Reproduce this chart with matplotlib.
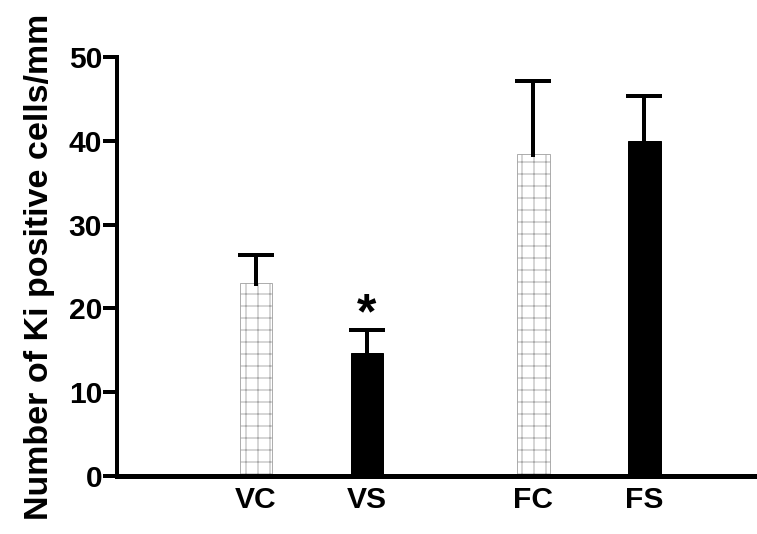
import matplotlib
matplotlib.use("Agg")
import matplotlib.pyplot as plt

# data
groups = ["VC", "VS", "FC", "FS"]
means = [23.0, 14.7, 38.4, 40.0]
errors = [3.4, 2.7, 8.7, 5.3]
hatched = [True, False, True, False]
positions = [1, 2, 3.5, 4.5]

plt.rcParams['font.family'] = ['Liberation Sans', 'DejaVu Sans']
plt.rcParams['font.weight'] = 'bold'
plt.rcParams['hatch.color'] = '#9a9a9a'
plt.rcParams['hatch.linewidth'] = 0.8

fig = plt.figure(figsize=(757 / 72, 534 / 72), dpi=72)
ax = fig.add_axes([0.1546, 0.1086, 0.8454, 0.7846])

for x, m, h in zip(positions, means, hatched):
    if h:
        ax.bar(x, m, width=0.29, color='white', edgecolor='#9a9a9a',
               linewidth=0.8, hatch='+', zorder=2)
    else:
        ax.bar(x, m, width=0.29, color='black', edgecolor='black', zorder=2)

# upward-only error bars, no cap at the bar top
eb = ax.errorbar(positions, means, yerr=[[0.3] * len(errors), errors], fmt='none',
                 ecolor='black', elinewidth=4, capsize=18, capthick=4, zorder=3)
eb[1][0].set_visible(False)

# significance mark above VS
ax.text(positions[1], 21.9, "*", ha='center', va='top',
        fontsize=50, fontweight='bold')

ax.set_xlim(-0.252, 5.514)
ax.set_ylim(0, 50)
ax.set_yticks([0, 10, 20, 30, 40, 50])
ax.set_xticks(positions)
ax.set_xticklabels(groups)
ax.tick_params(axis='x', length=0, labelsize=30, pad=10)
ax.tick_params(axis='y', length=14, width=4, labelsize=30, pad=1)
for lbl in ax.get_xticklabels() + ax.get_yticklabels():
    lbl.set_fontweight('bold')

ax.spines['top'].set_visible(False)
ax.spines['right'].set_visible(False)
ax.spines['left'].set_linewidth(4)
ax.spines['bottom'].set_linewidth(5)

ax.set_ylabel("Number of Ki positive cells/mm", fontsize=34, fontweight='bold', labelpad=14)

fig.savefig("out.png", dpi=72)
